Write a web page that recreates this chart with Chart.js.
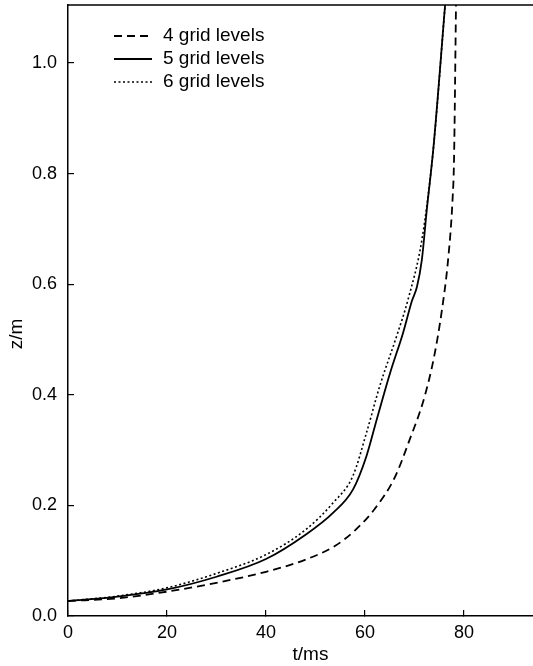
<!DOCTYPE html>
<html>
<head>
<meta charset="utf-8">
<script src="https://cdn.jsdelivr.net/npm/chart.js@4.4.1/dist/chart.umd.min.js"></script>
<style>
  html, body { margin: 0; padding: 0; background: #fff; overflow: hidden; }
</style>
</head>
<body>
<canvas id="zChart" width="553" height="666"></canvas>
<script>
// values (t in ms, z in m)
const t4 = [0, 10, 20, 30, 40, 48, 54, 58, 62, 66, 69, 72, 74, 75.5, 76.8, 77.7, 78.0, 78.4];
const z4 = [0.027, 0.032, 0.044, 0.060, 0.080, 0.102, 0.127, 0.155, 0.194, 0.25, 0.318, 0.395, 0.47, 0.55, 0.644, 0.753, 0.825, 1.105];

const t5 = [0, 10, 20, 30, 40, 48, 53.6, 57.6, 60.3, 62.4, 65.1, 67.7, 69.5, 70.5, 71.5, 72.5, 73.8, 76.2];
const z5 = [0.027, 0.035, 0.048, 0.071, 0.103, 0.147, 0.187, 0.229, 0.289, 0.356, 0.44, 0.512, 0.57, 0.595, 0.644, 0.735, 0.843, 1.105];

const t6 = [0, 10, 20, 30, 40, 48, 53.6, 57.6, 60.3, 63.0, 66.4, 68.7, 71.5, 73.8, 76.2];
const z6 = [0.027, 0.036, 0.051, 0.077, 0.111, 0.156, 0.205, 0.254, 0.331, 0.416, 0.506, 0.572, 0.68, 0.843, 1.105];

const seriesLabels = ['4 grid levels', '5 grid levels', '6 grid levels'];
const xTicks = [0, 20, 40, 60, 80];
const yTicks = [0, 0.2, 0.4, 0.6, 0.8, 1.0];

const FONT = '"Liberation Sans", Arial, Helvetica, sans-serif';

function pts(ts, zs) {
    return ts.map(function(t, i) { return { x: t, y: zs[i] }; });
}

// legend, top frame line and rotated y title
const extras = {
    id: 'extras',
    afterDraw(chart) {
        const ctx = chart.ctx;
        const a = chart.chartArea;
        ctx.save();
        ctx.strokeStyle = '#000';
        ctx.lineWidth = 1.5;
        ctx.beginPath();
        ctx.moveTo(a.left, a.top);
        ctx.lineTo(a.right, a.top);
        ctx.stroke();

        ctx.font = '19px ' + FONT;
        ctx.fillStyle = '#000';
        ctx.textBaseline = 'middle';
        chart.data.datasets.forEach(function(ds, i) {
            const y = a.top + 31 + i * 23;
            ctx.setLineDash(ds.borderDash || []);
            ctx.lineWidth = ds.borderWidth;
            ctx.beginPath();
            ctx.moveTo(a.left + 46, y);
            ctx.lineTo(a.left + 84, y);
            ctx.stroke();
            ctx.setLineDash([]);
            ctx.fillText(ds.label, a.left + 95, y);
        });

        ctx.translate(17, 334);
        ctx.rotate(-Math.PI / 2);
        ctx.textAlign = 'center';
        ctx.fillText('z/m', 0, 0);
        ctx.restore();
    }
};

const ctx = document.getElementById('zChart').getContext('2d');

new Chart(ctx, {
    type: 'line',
    data: {
        datasets: [{
            label: seriesLabels[0],
            data: pts(t4, z4),
            borderColor: '#000',
            borderWidth: 1.8,
            borderDash: [8, 5],
            cubicInterpolationMode: 'monotone'
        }, {
            label: seriesLabels[1],
            data: pts(t5, z5),
            borderColor: '#000',
            borderWidth: 1.8,
            cubicInterpolationMode: 'monotone'
        }, {
            label: seriesLabels[2],
            data: pts(t6, z6),
            borderColor: '#000',
            borderWidth: 1.6,
            borderDash: [2, 2.5],
            cubicInterpolationMode: 'monotone'
        }]
    },
    options: {
        responsive: false,
        animation: false,
        layout: { padding: { top: 5, left: 0, right: 0, bottom: 0 } },
        elements: { point: { radius: 0 } },
        plugins: {
            legend: { display: false },
            tooltip: { enabled: false }
        },
        scales: {
            x: {
                type: 'linear',
                min: 0,
                max: 98,
                afterFit: function(s) {
                    s.height = 50;
                    s.paddingLeft = 0;
                    s.paddingRight = 0;
                },
                afterBuildTicks: function(s) { s.ticks = xTicks.map(function(v) { return { value: v }; }); },
                ticks: {
                    padding: 12,
                    color: '#000',
                    font: { family: FONT, size: 18 },
                    maxRotation: 0
                },
                grid: { drawOnChartArea: false, drawTicks: true, tickLength: -6, color: '#000', lineWidth: 1.2 },
                border: { color: '#000', width: 1.5 },
                title: {
                    display: true,
                    text: 't/ms',
                    color: '#000',
                    font: { family: FONT, size: 19 },
                    padding: { top: 0, bottom: 0 }
                }
            },
            y: {
                type: 'linear',
                min: 0,
                max: 1.105,
                afterFit: function(s) {
                    s.width = 68;
                    s.paddingTop = 0;
                    s.paddingBottom = 0;
                },
                afterBuildTicks: function(s) { s.ticks = yTicks.map(function(v) { return { value: v }; }); },
                ticks: {
                    padding: 17,
                    color: '#000',
                    font: { family: FONT, size: 18 },
                    callback: function(v) { return Number(v).toFixed(1); }
                },
                grid: { drawOnChartArea: false, drawTicks: true, tickLength: -6, color: '#000', lineWidth: 1.2 },
                border: { color: '#000', width: 1.5 }
            }
        }
    },
    plugins: [extras]
});
</script>
</body>
</html>
